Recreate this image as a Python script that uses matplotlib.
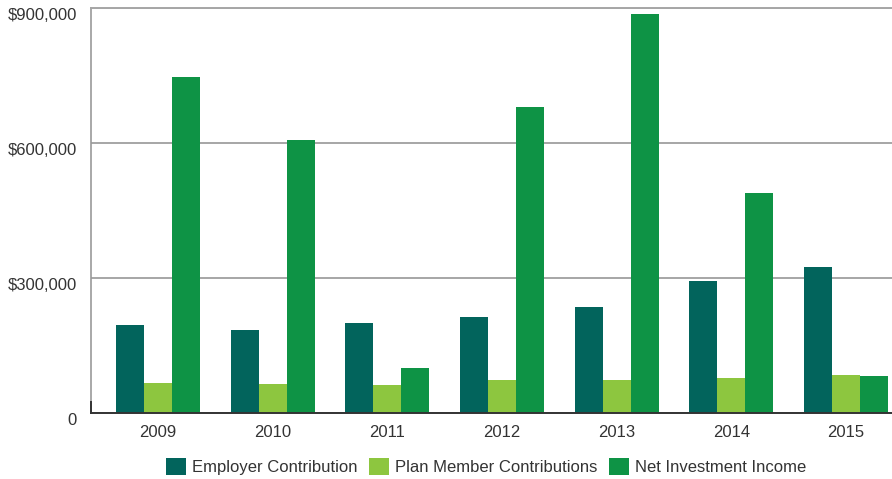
import matplotlib
matplotlib.use("Agg")
import matplotlib.pyplot as plt
import matplotlib.transforms as mtransforms
import numpy as np

plt.rcParams['font.family'] = ['Liberation Sans', 'DejaVu Sans']

years = ['2009', '2010', '2011', '2012', '2013', '2014', '2015']
employer = [195000, 184000, 200000, 213000, 235000, 293000, 324000]
plan_member = [67000, 64000, 62000, 73000, 73000, 78000, 84000]
net_investment = [748000, 606000, 100000, 681000, 886000, 488000, 82000]

series_names = ['Employer Contribution', 'Plan Member Contributions', 'Net Investment Income']
colors = ['#02645C', '#8DC63F', '#0E9345']

y_ticks = [0, 300000, 600000, 900000]
y_tick_labels = ['0', '$300,000', '$600,000', '$900,000']

fig = plt.figure(figsize=(8.92, 4.79), dpi=100)
ax = fig.add_axes([0.102, 0.138, 0.898, 0.845])

x = np.arange(len(years))
w = 0.244
for i, (vals, name, c) in enumerate(zip([employer, plan_member, net_investment], series_names, colors)):
    ax.bar(x + (i - 1) * w, vals, width=w, color=c, label=name, zorder=3, linewidth=0)

ax.set_xlim(-0.584, 6.40)
ax.set_ylim(0, 900000)

ax.set_yticks(y_ticks)
ax.set_yticklabels(y_tick_labels)
ax.set_xticks(x)
ax.set_xticklabels(years)

ax.grid(axis='y', color='#a6a6a6', linewidth=1.4, zorder=1)
ax.tick_params(axis='both', length=0, labelsize=12, colors='#333333')
ax.tick_params(axis='y', pad=10)
ax.tick_params(axis='x', pad=9)

# nudge y labels slightly below their gridlines
offset = mtransforms.ScaledTranslation(0, -6 / 100, fig.dpi_scale_trans)
for lbl in ax.get_yticklabels():
    lbl.set_transform(lbl.get_transform() + offset)

ax.spines['right'].set_visible(False)
ax.spines['top'].set_color('#a6a6a6')
ax.spines['top'].set_linewidth(1.4)
ax.spines['left'].set_color('#999999')
ax.spines['left'].set_linewidth(1.2)
ax.spines['bottom'].set_color('#333333')
ax.spines['bottom'].set_linewidth(1.4)
ax.spines['bottom'].set_zorder(4)
ax.axvline(-0.584, ymin=0, ymax=0.027, color='#333333', linewidth=1.4, zorder=4, clip_on=False)

leg = fig.legend(loc='lower center', bbox_to_anchor=(0.545, -0.024), ncol=3, frameon=False,
                 fontsize=12, handlelength=1.2, handleheight=1.25, handletextpad=0.35,
                 columnspacing=0.7)
for t in leg.get_texts():
    t.set_color('#333333')

fig.savefig('out.png', dpi=100)
